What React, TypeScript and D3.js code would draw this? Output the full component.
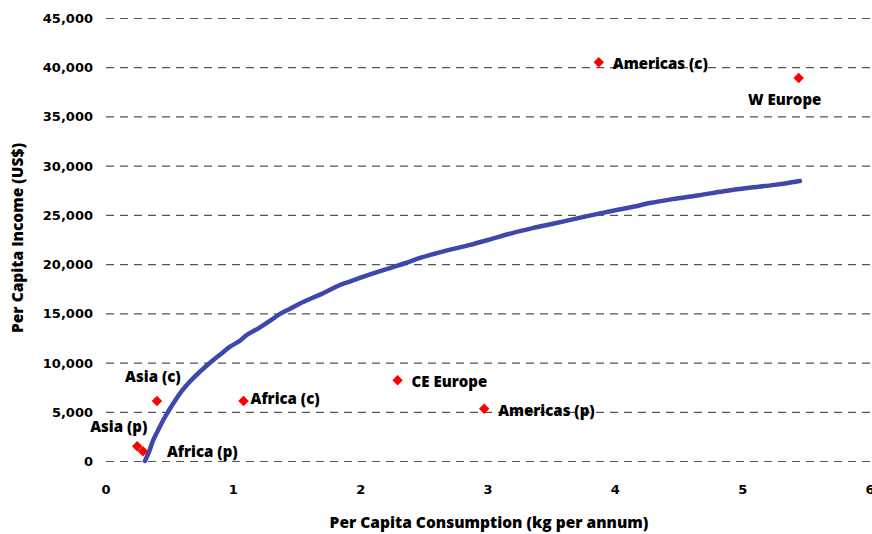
import * as d3 from "d3";
import { useEffect, useRef } from "react";

// Regions: per capita consumption (kg per annum) vs per capita income (US$)
const regionNames = ["Americas (c)", "W Europe", "CE Europe", "Americas (p)", "Africa (c)", "Asia (c)", "Asia (p)", "Africa (p)"];
const regionConsumption = [3.87, 5.44, 2.29, 2.97, 1.08, 0.4, 0.245, 0.29];
const regionIncome = [40500, 38900, 8200, 5300, 6100, 6100, 1500, 1000];

// Fitted trend line
const trendConsumption = [0.306, 0.34, 0.371, 0.41, 0.45, 0.49, 0.529, 0.58, 0.634, 0.685, 0.738, 0.79, 0.843, 0.91, 0.974, 1.05, 1.105, 1.2, 1.29, 1.367, 1.45, 1.524, 1.6, 1.681, 1.76, 1.838, 1.92, 1.995, 2.11, 2.23, 2.35, 2.46, 2.65, 2.86, 3.0, 3.19, 3.35, 3.51, 3.7, 3.88, 4.03, 4.15, 4.27, 4.45, 4.66, 4.85, 5.05, 5.25, 5.45];
const trendIncome = [0, 1000, 2130, 3150, 4165, 5050, 5860, 6850, 7720, 8420, 9070, 9680, 10260, 10950, 11610, 12200, 12800, 13500, 14250, 14950, 15500, 16000, 16450, 16900, 17400, 17880, 18250, 18600, 19100, 19600, 20100, 20600, 21300, 21950, 22450, 23150, 23650, 24100, 24650, 25150, 25550, 25850, 26200, 26600, 27000, 27400, 27750, 28050, 28450];

const xTicks = [0, 1, 2, 3, 4, 5, 6];
const yTicks = [0, 5000, 10000, 15000, 20000, 25000, 30000, 35000, 40000, 45000];

// label placement relative to the marker [dx, dy, anchor]
const labelOffsets: [number, number, string][] = [
    [14, 7, "start"],
    [-14, 27, "middle"],
    [14, 7, "start"],
    [14, 7, "start"],
    [7, 3, "start"],
    [-4, -19, "middle"],
    [-47, -14, "start"],
    [24, 6, "start"],
];

const width = 872;
const height = 534;
const margin = { left: 106, top: 18, right: 2, bottom: 73 };

export default function App() {
    const svgRef = useRef<SVGSVGElement>(null);

    useEffect(() => {
        if (!svgRef.current) return;
        const svg = d3.select(svgRef.current);
        svg.selectAll("*").remove();

        const x = d3.scaleLinear().domain([0, 6]).range([margin.left, 870]);
        const y = d3.scaleLinear().domain([0, 45000]).range([height - margin.bottom, margin.top]);

        const tickFont = "'DejaVu Sans', sans-serif";
        const labelFont = "'Open Sans', sans-serif";

        // horizontal dashed grid
        svg.append("g")
            .attr("transform", "translate(" + margin.left + ",0)")
            .call(d3.axisLeft(y).tickValues(yTicks).tickSize(-(width - margin.left)).tickFormat(() => ""))
            .call((g) => g.select(".domain").remove())
            .call((g) => g.selectAll("line").attr("stroke", "#555").attr("stroke-width", 1.2).attr("stroke-dasharray", "8,6"));

        // y tick labels
        svg.append("g")
            .selectAll("text")
            .data(yTicks)
            .join("text")
            .attr("x", 93)
            .attr("y", (d) => y(d) + 5)
            .attr("text-anchor", "end")
            .attr("font-family", tickFont)
            .attr("font-weight", "bold")
            .attr("font-size", 13)
            .text((d) => d3.format(",")(d));

        // x tick labels
        svg.append("g")
            .selectAll("text")
            .data(xTicks)
            .join("text")
            .attr("x", (d) => x(d))
            .attr("y", 494)
            .attr("text-anchor", "middle")
            .attr("font-family", tickFont)
            .attr("font-weight", "bold")
            .attr("font-size", 13)
            .text((d) => d);

        // axis titles
        svg.append("text")
            .attr("x", 489)
            .attr("y", 528)
            .attr("text-anchor", "middle")
            .attr("font-family", labelFont)
            .attr("font-weight", 800)
            .attr("font-size", 15.5)
            .text("Per Capita Consumption (kg per annum)");
        svg.append("text")
            .attr("transform", "translate(23,238) rotate(-90)")
            .attr("text-anchor", "middle")
            .attr("font-family", labelFont)
            .attr("font-weight", 800)
            .attr("font-size", 15.5)
            .text("Per Capita Income (US$)");

        // trend line
        const line = d3
            .line<number>()
            .x((d, i) => x(trendConsumption[i]))
            .y((d) => y(d))
            .curve(d3.curveCatmullRom);
        svg.append("path")
            .attr("d", line(trendIncome))
            .attr("fill", "none")
            .attr("stroke", "#3f48aa")
            .attr("stroke-width", 4.5)
            .attr("stroke-linecap", "round");

        // region markers
        const sym = d3.symbol().type(d3.symbolDiamond2).size(70);
        svg.append("g")
            .selectAll("path")
            .data(regionNames)
            .join("path")
            .attr("d", sym)
            .attr("transform", (d, i) => "translate(" + x(regionConsumption[i]) + "," + y(regionIncome[i]) + ")")
            .attr("fill", "#ff0000");

        svg.append("g")
            .selectAll("text")
            .data(regionNames)
            .join("text")
            .attr("x", (d, i) => x(regionConsumption[i]) + labelOffsets[i][0])
            .attr("y", (d, i) => y(regionIncome[i]) + labelOffsets[i][1])
            .attr("text-anchor", (d, i) => labelOffsets[i][2])
            .attr("font-family", labelFont)
            .attr("font-weight", 800)
            .attr("font-size", 15)
            .attr("fill", "#000")
            .text((d) => d);
    }, []);

    return (
        <svg
            ref={svgRef}
            width={width}
            height={height}
            style={{ position: "absolute", left: 0, top: 0, background: "#fff" }}
        />
    );
}
